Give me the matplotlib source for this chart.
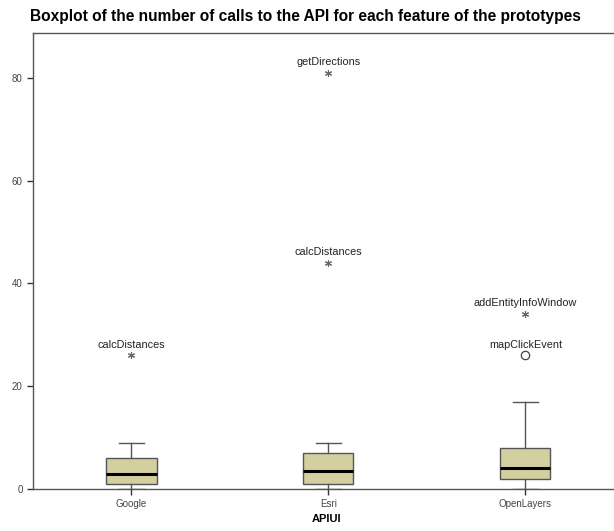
import matplotlib
matplotlib.use("Agg")
import matplotlib.pyplot as plt

plt.rcParams['font.family'] = ['Liberation Sans', 'DejaVu Sans']

categories = ["Google", "Esri", "OpenLayers"]
q1 = [1, 1, 2]
medians = [3, 3.5, 4]
q3 = [6, 7, 8]
whis_lo = [0, 0, 0]
whis_hi = [9, 9, 17]

# outliers: (category index, value, label, kind)
out_cat = [0, 1, 1, 2, 2]
out_val = [26, 81, 44, 34, 26]
out_lab = ["calcDistances", "getDirections", "calcDistances", "addEntityInfoWindow", "mapClickEvent"]
out_kind = ["extreme", "extreme", "extreme", "extreme", "outlier"]

yticks = [0, 20, 40, 60, 80]

fig = plt.figure(figsize=(6.14, 5.31), dpi=100)
ax = fig.add_axes([33/614, 1 - 489/531, 587/614, (489 - 33)/531])

stats = []
for i, c in enumerate(categories):
    stats.append(dict(label=c, q1=q1[i], med=medians[i], q3=q3[i],
                      whislo=whis_lo[i], whishi=whis_hi[i], fliers=[]))

ax.bxp(stats, positions=[1, 2, 3], widths=0.254, patch_artist=True,
       showfliers=False,
       boxprops=dict(facecolor='#d4cf9f', edgecolor='#555555', linewidth=1.0),
       medianprops=dict(color='black', linewidth=2.2),
       whiskerprops=dict(color='#555555', linewidth=1.0),
       capprops=dict(color='#555555', linewidth=1.0),
       capwidths=0.125)

for ci, v, lab, kind in zip(out_cat, out_val, out_lab, out_kind):
    x = ci + 1
    if kind == "extreme":
        ax.plot(x, v, marker=(6, 2, 0), color='#666666', markersize=5, mew=0.8, linestyle='none')
    else:
        ax.plot(x, v, marker='o', mfc='white', mec='#444444', markersize=6, mew=0.9, linestyle='none')
    ax.text(x, v + 2.1, lab, ha='center', va='center', fontsize=7.8, color='#222222')

ax.set_xlim(0.5, 3.48)
ax.set_ylim(0, 88.7)
ax.set_yticks(yticks)
ax.set_yticklabels([str(t) for t in yticks])
ax.set_xticks([1, 2, 3])
ax.set_xticklabels(categories)
ax.tick_params(axis='both', labelsize=7, labelcolor='#444444', color='#333333', length=4, width=1)
for s in ax.spines.values():
    s.set_color('#555555')
    s.set_linewidth(1.0)
ax.set_xlabel("APIUI", fontsize=8, fontweight='bold', labelpad=3)
fig.text(305/614, 1 - 17/531, "Boxplot of the number of calls to the API for each feature of the prototypes",
         ha='center', va='center', fontsize=11.2, fontweight='bold')

fig.savefig("out.png", dpi=100)
